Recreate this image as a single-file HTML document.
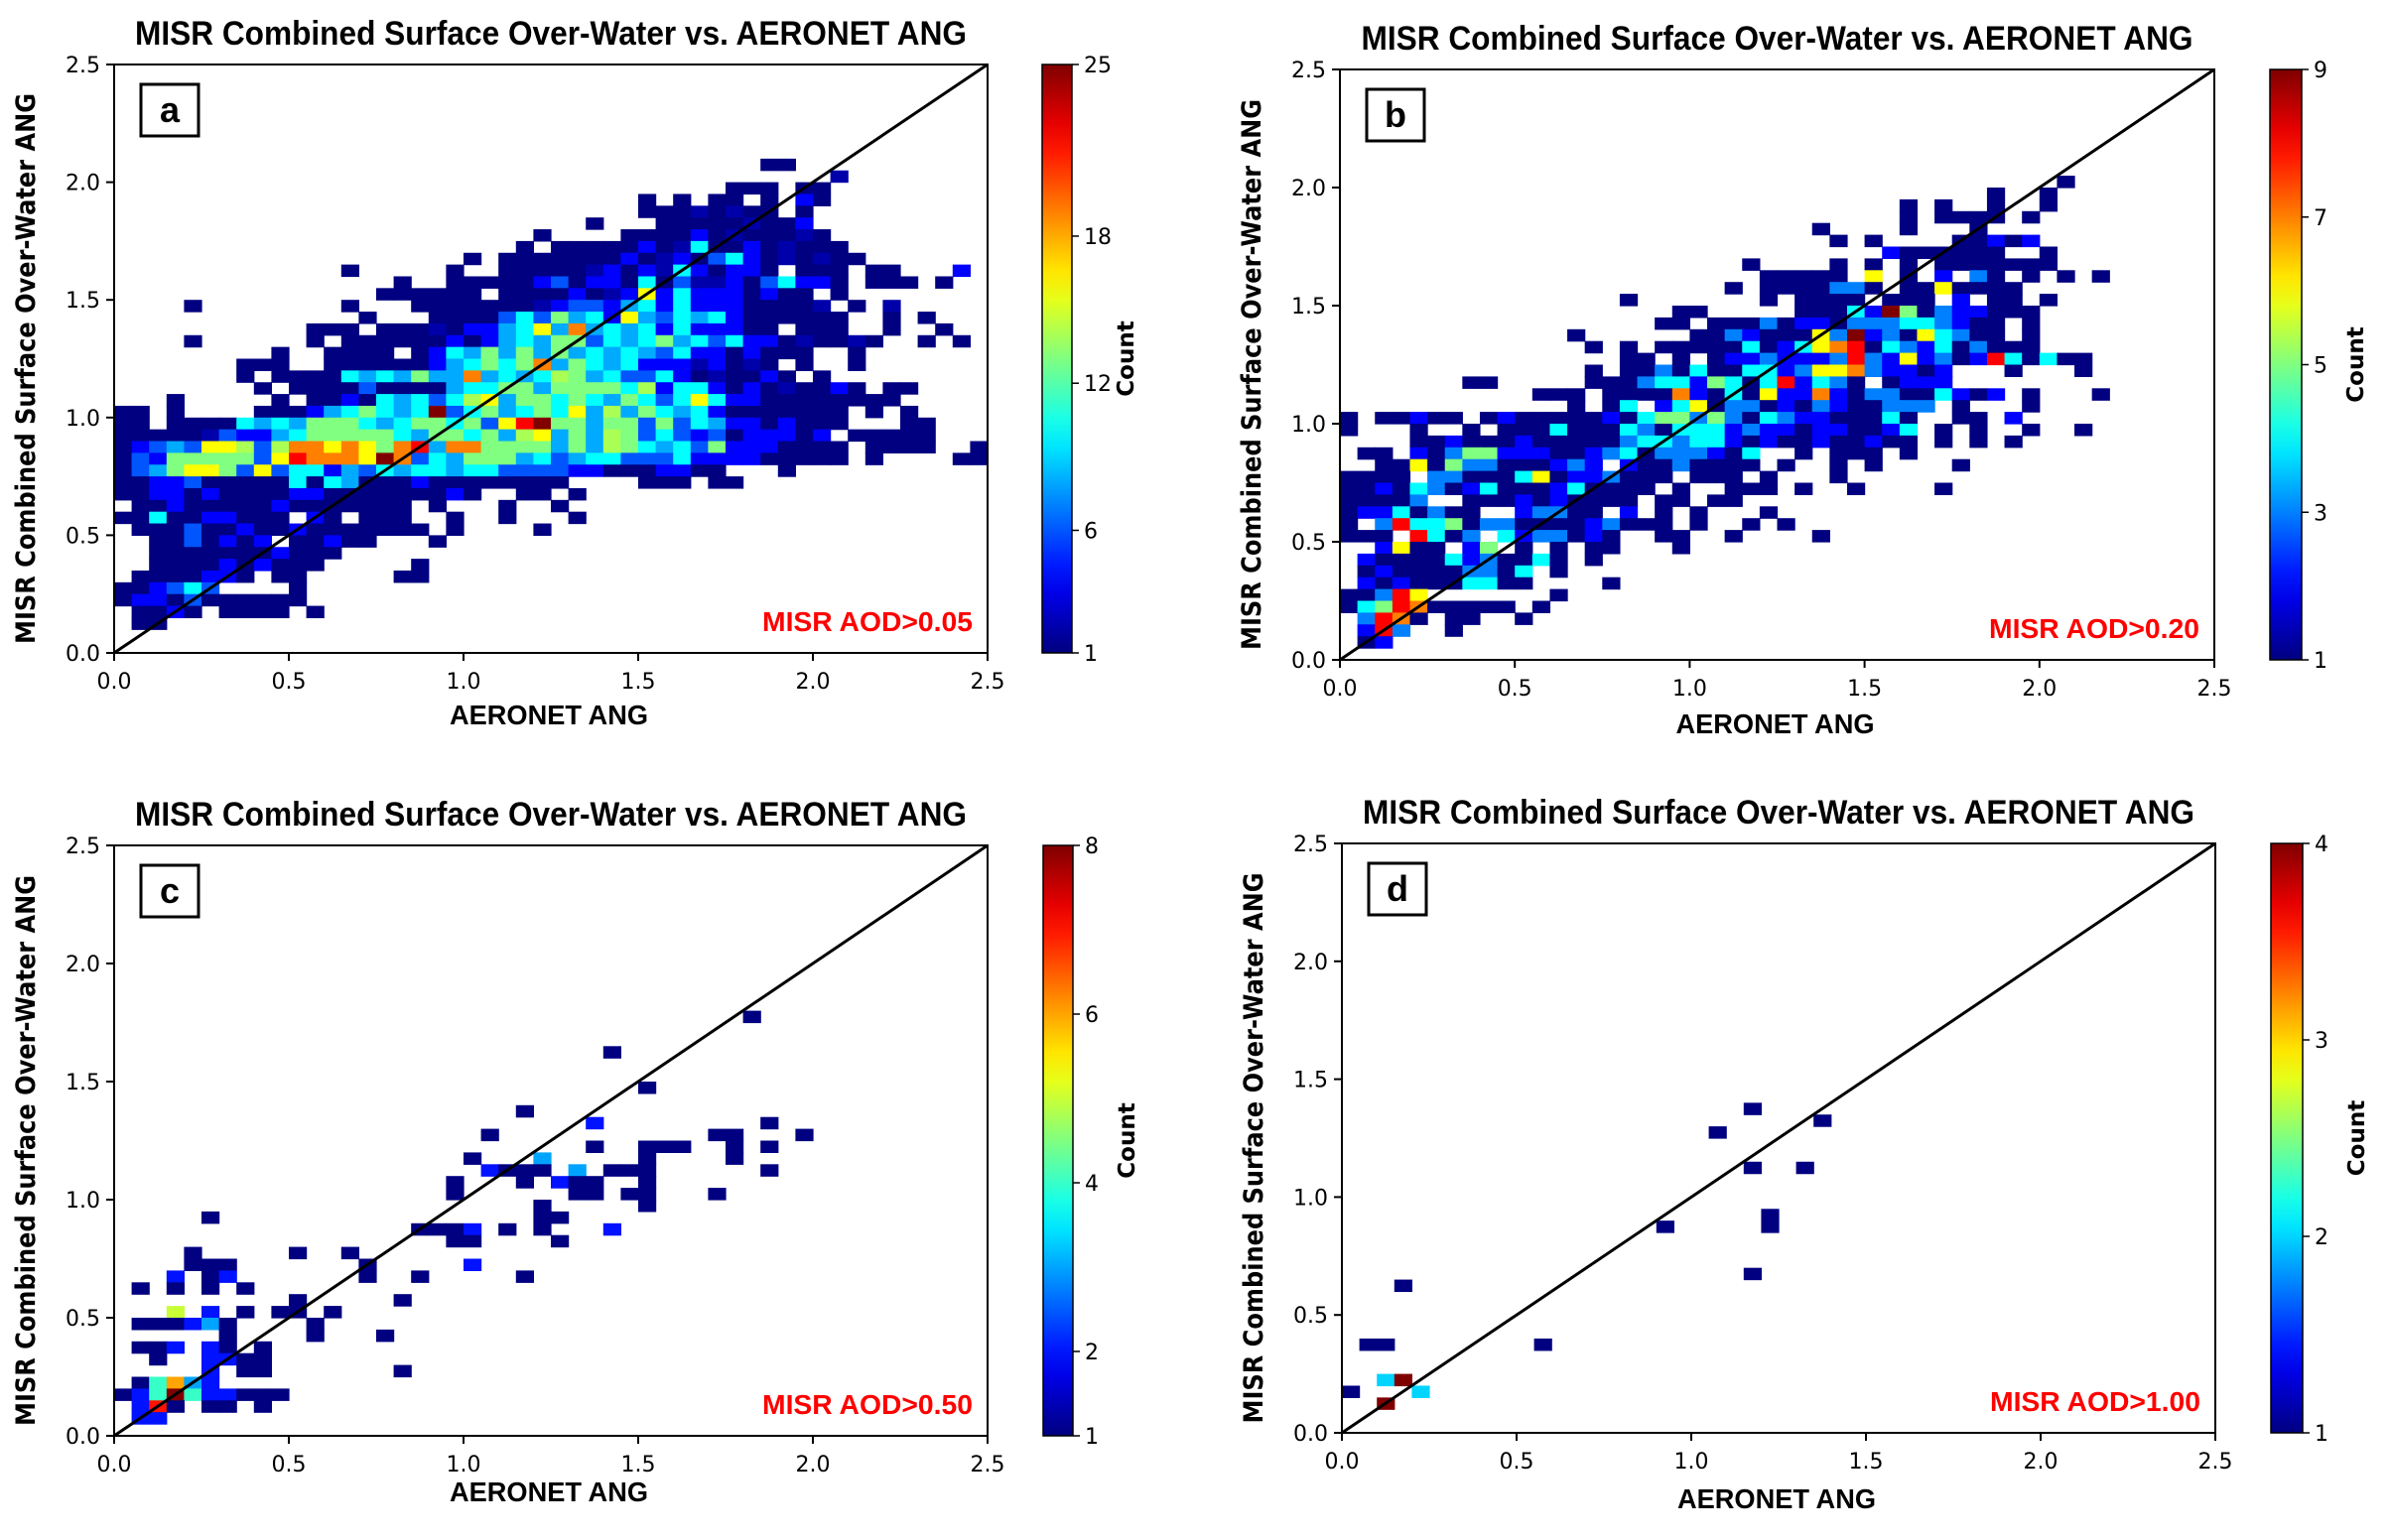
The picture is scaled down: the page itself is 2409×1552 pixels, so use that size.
<!DOCTYPE html>
<html><head><meta charset="utf-8"><style>
html,body{margin:0;padding:0;background:#fff;}
svg{display:block;}
.tt{font-family:"Liberation Sans Narrow","Liberation Sans",sans-serif;font-weight:bold;}
.tk{font-family:"DejaVu Sans","Liberation Sans",sans-serif;font-size:22px;fill:#000;}
.yl{font-family:"DejaVu Sans","Liberation Sans",sans-serif;font-weight:bold;}
</style></head><body>
<svg id="fig" width="2409" height="1552" viewBox="0 0 2409 1552" xmlns="http://www.w3.org/2000/svg"></svg>
<script>
// Panel a: rows [yBinIndex, startXBin, counts ('.'=0, 0-9, a=10..p=25)]
const aRows = [
[41,37,"11"],[40,41,"2"],[39,35,"111.11"],[38,30,"1.1.11.1.41"],[37,30,"11121211.1"],
[36,27,"1...111112114"],[35,24,"1....111141211121"],[34,23,"1.11111412a11412111"],
[33,20,"1.1111111412416a4121211"],[32,13,"1.....1..1111124142a41441.111.11...4"],
[31,16,"1..11111461441a1622416a441.111.1"],[30,15,"111111.11114124g4a4441411.1"],
[29,4,"1........1...1111111246648a4a44411112.1.2"],[28,12,"..1...11116a6d8a4g86a8a4111111..1.1"],
[27,11,"111.11121448ag8j8a8a4a44411.111..1..1"],[26,4,"1......1.1111114148a8dd6a8ad8a6a44121121..1.1"],
[25,9,"1..1111.14a8d8d8d8a8a86a4414111..1"],[24,7,"111..11111148adadj8da8a44424121.1..1"],
[23,7,"1.1111a8a8d88j8a8aed8a66a4121141.1"],[22,8,"1.1111611118aadd8ddddae4aa414121141.11"],
[21,3,"1.....1.1141a8a6aeg8ddada8da6aga4411111111"],[20,0,"11.1....11148ada8ap6ad8adag8e8da8a41111111.1.1"],
[19,0,"11.1111a8a8ddda8addad6gmpdd8dd6d6a84414111...11"],[18,0,"1111126448addddda8ddad8eg8d8ed6a646144414.11111"],
[17,0,"14686gge6ejjgjgdjm8jjdddd8d8eda8a6d4441111.1111..1"],[16,0,"164ddddd6gmjjjgpj6a8ddd8a68aa666a444411111.1....11"],
[15,0,"168dggd6g6aa486a8aa8aa6666441114411...1"],[14,0,"1144611111a1a8111411111111....111.11"],
[13,0,"114414111144111111141..11.1"],[12,0,".1141111141111111.1...1..1"],[11,0,"11a1144111.41.111..1..1...1"],
[10,1,"11161141141111111.1....1"],[9,2,"1161414.11411...1"],[8,2,"11111114111"],[7,2,"1111414111.....1"],
[6,1,"1111441.11.....11"],[5,0,"1146a6....1"],[4,0,"14416111111"],[3,1,"1141.1111.1"],[2,1,"11"]
];
const bRows = [
[40,41,"1"],[39,37,"1..1"],[38,32,"1.1..1..1"],[37,32,"1.1111.1"],[36,27,"1....1...1"],
[35,28,"1.1....11212"],[34,31,"2111111..1"],[33,23,"1....1.1.1.1111111"],[32,24,"11111.6.1.2.31.1.1.1"],
[31,22,"1.1111331.1161111"],[30,16,"1.......1.1111.111.2.11.1"],[29,19,"11.....11142951322111"],
[28,18,"11.11131221333443211.1"],[27,13,"1......113211163923164311.1"],[26,14,"1.1.1111141246781432413111"],
[25,16,"11.1.1223222383262312841411"],[24,14,"1.1131411442366732212...1...1"],[23,7,"11.....1113442541482431.1222"],
[22,11,"111.11117214162272133114212.1...1"],[21,13,"1.14.2461331213211333.1...1"],
[20,0,"1.11211.1211111214553531432211141..11.2"],[19,0,"1...1..1.111411143144423221221124.1.1..1..1"],
[18,1,"...11211121111134434421211211211.1.1.1"],[17,1,"11.21355222112341333214..1.111.1"],
[16,1,".1161533111232.21131111.1..1.1....1"],[15,0,"1111.33111461223111.111.1...1"],
[14,0,"112143124111241111.1..111.1..1....1"],[13,0,"11113..1112121111.11.11"],[12,0,"12241311..23311.2.1.1...1"],
[11,0,"1.38445133111123111.1..1.1"],[10,0,"111.8413.4233121..11..1....1"],[9,1,".2611.25.1.1.11...1"],
[8,1,"211114231141.1"],[7,1,"1211113314.1"],[6,1,"2121114411....1"],[5,0,"11386.......1"],
[4,0,"1458711111.1"],[3,1,"3871.11..1"],[2,1,"283..1"],[1,1,"12"]
];
// Panel c: bin centers and counts
const cX = [1.825,1.425,1.525,1.175,1.375,1.875,1.075,1.975,1.725,1.775,1.375,1.525,1.575,1.625,1.775,1.875,1.025,1.225,1.525,1.775,1.075,1.125,1.175,1.225,1.325,1.425,1.475,1.525,1.875,0.975,1.175,1.275,1.325,1.375,1.525,0.975,1.325,1.375,1.475,1.525,1.725,1.225,1.525,0.275,1.225,1.275,0.875,0.925,0.975,1.025,1.125,1.225,1.425,0.975,1.025,1.275,0.225,0.525,0.675,0.225,0.275,0.325,0.725,1.025,0.175,0.275,0.325,0.725,0.875,1.175,0.075,0.175,0.275,0.375,0.525,0.825,0.175,0.275,0.375,0.475,0.525,0.625,0.075,0.125,0.175,0.225,0.275,0.325,0.575,0.325,0.575,0.775,0.075,0.125,0.175,0.275,0.325,0.425,0.125,0.275,0.325,0.375,0.425,0.275,0.375,0.425,0.825,0.075,0.125,0.175,0.225,0.275,0.025,0.075,0.125,0.175,0.225,0.275,0.325,0.375,0.425,0.475,0.075,0.125,0.175,0.275,0.325,0.425,0.075,0.125];
const cY = [1.775,1.625,1.475,1.375,1.325,1.325,1.275,1.275,1.275,1.275,1.225,1.225,1.225,1.225,1.225,1.225,1.175,1.175,1.175,1.175,1.125,1.125,1.125,1.125,1.125,1.125,1.125,1.125,1.125,1.075,1.075,1.075,1.075,1.075,1.075,1.025,1.025,1.025,1.025,1.025,1.025,0.975,0.975,0.925,0.925,0.925,0.875,0.875,0.875,0.875,0.875,0.875,0.875,0.825,0.825,0.825,0.775,0.775,0.775,0.725,0.725,0.725,0.725,0.725,0.675,0.675,0.675,0.675,0.675,0.675,0.625,0.625,0.625,0.625,0.575,0.575,0.525,0.525,0.525,0.525,0.525,0.525,0.475,0.475,0.475,0.475,0.475,0.475,0.475,0.425,0.425,0.425,0.375,0.375,0.375,0.375,0.375,0.375,0.325,0.325,0.325,0.325,0.325,0.275,0.275,0.275,0.275,0.225,0.225,0.225,0.225,0.225,0.175,0.175,0.175,0.175,0.175,0.175,0.175,0.175,0.175,0.175,0.125,0.125,0.125,0.125,0.125,0.125,0.075,0.075];
const cN = [1,1,1,1,2,1,1,1,1,1,1,1,1,1,1,1,1,3,1,1,2,1,1,1,3,1,1,1,1,1,1,2,1,1,1,1,1,1,1,1,1,1,1,1,1,1,1,1,1,2,1,1,2,1,1,1,1,1,1,1,1,1,1,2,2,1,2,1,1,1,1,1,1,1,1,1,5,2,1,1,1,1,1,1,1,2,3,1,1,1,1,1,1,1,2,2,1,1,1,2,2,1,1,2,1,1,1,1,4,6,3,2,1,2,4,8,4,2,2,1,1,1,2,7,1,1,1,1,2,2];
const dX = [0.025,0.075,0.125,0.125,0.175,0.125,0.225,0.175,0.575,0.925,1.075,1.175,1.375,1.175,1.325,1.225,1.225,1.175];
const dY = [0.175,0.375,0.375,0.225,0.225,0.125,0.175,0.625,0.375,0.875,1.275,1.375,1.325,1.125,1.125,0.925,0.875,0.675];
const dN = [1,1,1,2,4,4,2,1,1,1,1,1,1,1,1,1,1,1];
const axisTicks = ["0.0","0.5","1.0","1.5","2.0","2.5"];
const cbTicksA = [1,6,12,18,25], cbTicksB = [1,3,5,7,9], cbTicksC = [1,2,4,6,8], cbTicksD = [1,2,3,4];

const NS="http://www.w3.org/2000/svg";
const svg=document.getElementById('fig');
function mk(tag,attrs,parent){const e=document.createElementNS(NS,tag);for(const k in attrs)e.setAttribute(k,attrs[k]);(parent||svg).appendChild(e);return e;}
function jet(f){f=Math.max(0,Math.min(1,f));const c=v=>Math.round(255*Math.max(0,Math.min(1,v)));
 return `rgb(${c(1.5-Math.abs(4*f-3))},${c(1.5-Math.abs(4*f-2))},${c(1.5-Math.abs(4*f-1))})`;}
function decode(ch){if(ch==='.')return 0;if(ch>='0'&&ch<='9')return +ch;return ch.charCodeAt(0)-87;}

function panel(p){
 const g=mk('g',{});
 
 
 const xs=v=>p.L+(v/2.5)*(p.R-p.L), ys=v=>p.B-(v/2.5)*(p.B-p.T);
 const bw=(p.R-p.L)/50, bh=(p.B-p.T)/50;
 const cells=mk('g',{},g);
 
 
 function cell(xc,yc,n){if(!n)return;const r=mk('rect',{x:(xs(xc)-bw/2).toFixed(2),y:(ys(yc)-bh/2).toFixed(2),width:(bw+0.6).toFixed(2),height:(bh+0.6).toFixed(2),fill:jet((Math.min(n,p.vmax)-1)/(p.vmax-1))},cells);
  
  }
 if(p.rows){p.rows.forEach(([j,s,str])=>{for(let k=0;k<str.length;k++){cell((s+k)*0.05+0.025,j*0.05+0.025,decode(str[k]));}});}
 else{p.xs.forEach((x,i)=>cell(x,p.ys[i],p.ns[i]));}
 const dl=mk('line',{x1:xs(0),y1:ys(0),x2:xs(2.5),y2:ys(2.5),stroke:'#000','stroke-width':3},g);
 
 
 const fr=mk('rect',{x:p.L,y:p.T,width:p.R-p.L,height:p.B-p.T,fill:'none',stroke:'#000','stroke-width':2},g);
 
 
 axisTicks.forEach(t=>{const v=+t;
  mk('line',{x1:xs(v),y1:p.B,x2:xs(v),y2:p.B+8,stroke:'#000','stroke-width':2},g);
  const tx=mk('text',{x:xs(v),y:p.B+36,'text-anchor':'middle',class:'tk'},g);tx.textContent=t;
  
  
  mk('line',{x1:p.L-8,y1:ys(v),x2:p.L,y2:ys(v),stroke:'#000','stroke-width':2},g);
  const ty=mk('text',{x:p.L-14,y:ys(v)+8,'text-anchor':'end',class:'tk'},g);ty.textContent=t;
  
  
 });
 const cx=(p.L+p.R)/2;
 const ti=mk('text',{x:cx,y:p.T-20,'text-anchor':'middle',class:'tt','font-size':34,textLength:838,lengthAdjust:'spacingAndGlyphs'},g);
 ti.textContent='MISR Combined Surface Over-Water vs. AERONET ANG';
 
 
 const xl=mk('text',{x:cx-2,y:p.B+p.xlOff,'text-anchor':'middle',class:'tt','font-size':28,textLength:200,lengthAdjust:'spacingAndGlyphs'},g);
 xl.textContent='AERONET ANG';
 
 
 const yx=p.L-80, yc=(p.T+p.B)/2+10;
 const yl=mk('text',{x:yx,y:yc,'text-anchor':'middle',class:'yl','font-size':27,transform:`rotate(-90 ${yx} ${yc})`,textLength:555,lengthAdjust:'spacingAndGlyphs'},g);
 yl.textContent='MISR Combined Surface Over-Water ANG';
 
 
 const lb=mk('rect',{x:p.L+27,y:p.T+20,width:58,height:52,fill:'#fff',stroke:'#000','stroke-width':3},g);
 
 
 const lt=mk('text',{x:p.L+56,y:p.T+58,'text-anchor':'middle',class:'tt','font-size':36},g);lt.textContent=p.id;
 
 
 const an=mk('text',{x:p.R-15,y:p.B-22,'text-anchor':'end',class:'tt','font-size':28,fill:'#ff0000',textLength:212,lengthAdjust:'spacingAndGlyphs'},g);
 an.textContent=p.note;
 
 
 const gid='grad'+p.id;
 const lg=mk('linearGradient',{id:gid,x1:0,y1:1,x2:0,y2:0},g);
 for(let k=0;k<=20;k++)mk('stop',{offset:k/20,'stop-color':jet(k/20)},lg);
 const cb=mk('rect',{x:p.cbL,y:p.T,width:p.cbW,height:p.B-p.T,fill:`url(#${gid})`,stroke:'#000','stroke-width':1.5},g);
 
 
 p.cbt.forEach(v=>{const y=p.B-(v-1)/(p.vmax-1)*(p.B-p.T);
  mk('line',{x1:p.cbL+p.cbW,y1:y,x2:p.cbL+p.cbW+7,y2:y,stroke:'#000','stroke-width':1.5},g);
  const t=mk('text',{x:p.cbL+p.cbW+12,y:y+8,class:'tk'},g);t.textContent=v;
  
  });
 const ccx=p.cbL+p.cbW+62, ccy=(p.T+p.B)/2;
 const ct=mk('text',{x:ccx,y:ccy,'text-anchor':'middle',class:'yl','font-size':23,transform:`rotate(-90 ${ccx} ${ccy})`},g);
 ct.textContent='Count';
 
 
}
panel({id:'a',L:115,R:995,T:65,B:658,vmax:25,rows:aRows,note:'MISR AOD>0.05',cbL:1050,cbW:30,cbt:cbTicksA,xlOff:72});
panel({id:'b',L:1350,R:2231,T:70,B:665,vmax:9,rows:bRows,note:'MISR AOD>0.20',cbL:2287,cbW:32,cbt:cbTicksB,xlOff:74});
panel({id:'c',L:115,R:995,T:852,B:1447,vmax:8,xs:cX,ys:cY,ns:cN,note:'MISR AOD>0.50',cbL:1051,cbW:30,cbt:cbTicksC,xlOff:66});
panel({id:'d',L:1352,R:2232,T:850,B:1444,vmax:4,xs:dX,ys:dY,ns:dN,note:'MISR AOD>1.00',cbL:2288,cbW:32,cbt:cbTicksD,xlOff:76});
</script>
</body></html>
